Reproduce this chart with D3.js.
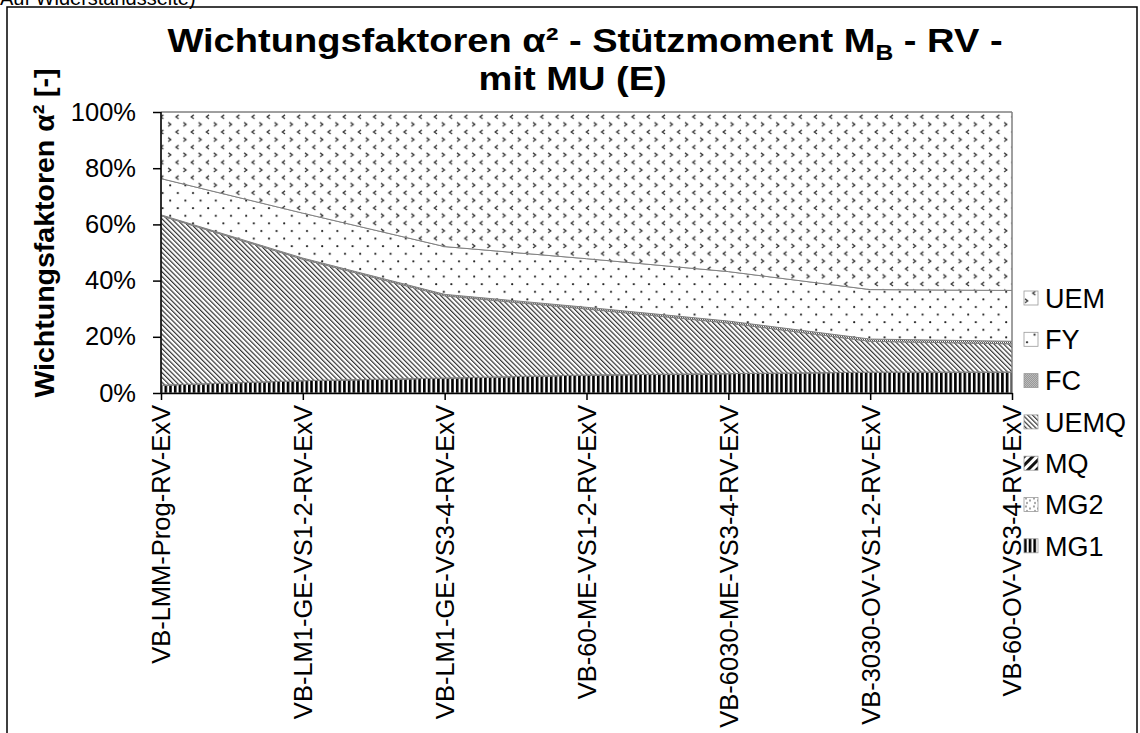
<!doctype html>
<html>
<head>
<meta charset="utf-8">
<title>Wichtungsfaktoren</title>
<script src="https://cdn.jsdelivr.net/npm/d3@7"></script>
<style>
    body { margin: 0; background: white; }
    text { font-family: "Liberation Sans", Arial, sans-serif; fill: black; }
    .title { font-weight: bold; font-size: 34px; text-anchor: middle; }
    .ytitle { font-weight: bold; font-size: 28.5px; text-anchor: middle; }
    .axis path, .axis line { stroke: black; stroke-width: 1.5px; }
    .axis text { font-size: 25.5px; }
    .legend text { font-size: 27px; }
    .layer { stroke: #808080; stroke-width: 1px; }
</style>
</head>
<body>
<script>
    const categories = [
        "VB-LMM-Prog-RV-ExV",
        "VB-LM1-GE-VS1-2-RV-ExV",
        "VB-LM1-GE-VS3-4-RV-ExV",
        "VB-60-ME-VS1-2-RV-ExV",
        "VB-6030-ME-VS3-4-RV-ExV",
        "VB-3030-OV-VS1-2-RV-ExV",
        "VB-60-OV-VS3-4-RV-ExV"
    ];
    // stacking order bottom -> top
    const keys = ["MG1", "MG2", "MQ", "UEMQ", "FC", "FY", "UEM"];
    // shares in percent
    const MG1 = [2.8, 4.4, 5.3, 6.4, 6.9, 7.4, 7.5];
    const MG2 = [0, 0, 0, 0, 0, 0, 0];
    const MQ = [0, 0, 0, 0, 0, 0, 0];
    const UEMQ = [60.3, 43.2, 29.3, 23.5, 18.0, 11.0, 10.0];
    const FC = [0.3, 0.4, 0.5, 0.6, 0.7, 0.8, 0.9];
    const FY = [12.9, 16.0, 17.0, 17.3, 17.6, 17.6, 18.1];
    const UEM = [23.7, 36.0, 47.9, 52.2, 56.8, 63.2, 63.5];
    const yTicks = [0, 0.2, 0.4, 0.6, 0.8, 1.0];

    const series = {MG1, MG2, MQ, UEMQ, FC, FY, UEM};
    const rows = categories.map((c, i) => {
        const r = {cat: c};
        keys.forEach(k => r[k] = series[k][i] / 100);
        return r;
    });

    const width = 1140, height = 733;
    const plotLeft = 161, plotRight = 1012, plotTop = 112, plotBottom = 393;

    const svg = d3.select("body").append("svg")
        .attr("width", width)
        .attr("height", height);

    // hatch patterns
    const defs = svg.append("defs");

    function pattern(id, w, h, transform) {
        const p = defs.append("pattern")
            .attr("id", id)
            .attr("patternUnits", "userSpaceOnUse")
            .attr("width", w)
            .attr("height", h);
        if (transform) p.attr("patternTransform", transform);
        p.append("rect").attr("width", w).attr("height", h).attr("fill", "white");
        return p;
    }

    const uem = pattern("p-UEM", 15.2, 15.2);
    uem.append("path").attr("d", "M1,0.8 l2.6,2 l-2.6,2").attr("fill", "none")
        .attr("stroke", "#333").attr("stroke-width", 1.3);
    uem.append("path").attr("d", "M11.4,8.4 l-2.6,2 l2.6,2").attr("fill", "none")
        .attr("stroke", "#333").attr("stroke-width", 1.3);

    const fy = pattern("p-FY", 15.2, 15.2);
    fy.append("circle").attr("cx", 3).attr("cy", 3).attr("r", 1.1).attr("fill", "#222");
    fy.append("circle").attr("cx", 10.6).attr("cy", 10.6).attr("r", 1.1).attr("fill", "#222");

    const fc = pattern("p-FC", 2, 2);
    fc.append("rect").attr("width", 1).attr("height", 1).attr("fill", "#555");
    fc.append("rect").attr("x", 1).attr("y", 1).attr("width", 1).attr("height", 1).attr("fill", "#555");

    const uemq = pattern("p-UEMQ", 3.4, 3.4, "rotate(-45)");
    uemq.append("rect").attr("width", 1.2).attr("height", 3.4).attr("fill", "#333");

    const mq = pattern("p-MQ", 6, 6, "rotate(45)");
    mq.append("rect").attr("width", 3).attr("height", 6).attr("fill", "#111");

    const mg2 = pattern("p-MG2", 8, 8);
    mg2.append("circle").attr("cx", 2).attr("cy", 2).attr("r", 0.8).attr("fill", "#333");
    mg2.append("circle").attr("cx", 6).attr("cy", 4).attr("r", 0.8).attr("fill", "#333");
    mg2.append("circle").attr("cx", 3).attr("cy", 6.5).attr("r", 0.8).attr("fill", "#333");

    const mg1 = pattern("p-MG1", 4.7, 4);
    mg1.append("rect").attr("width", 2.6).attr("height", 4).attr("fill", "#000");

    // outer frame and caption above it (cut by the page edge, as in the source)
    svg.append("text")
        .attr("x", 0).attr("y", 5)
        .style("font-size", "20px")
        .text("Auf Widerstandsseite)");
    svg.append("rect")
        .attr("x", 7).attr("y", 7)
        .attr("width", 1130).attr("height", 740)
        .attr("fill", "none")
        .attr("stroke", "black")
        .attr("stroke-width", 1.5);

    const x = d3.scalePoint().domain(categories).range([plotLeft, plotRight]);
    const y = d3.scaleLinear().domain([0, 1]).range([plotBottom, plotTop]);

    const stack = d3.stack().keys(keys);
    const layers = stack(rows);

    const area = d3.area()
        .x(d => x(d.data.cat))
        .y0(d => y(d[0]))
        .y1(d => y(d[1]));

    svg.append("g").selectAll("path")
        .data(layers)
        .join("path")
        .attr("class", "layer")
        .attr("fill", d => `url(#p-${d.key})`)
        .attr("d", area);

    // plot area border (top and right)
    svg.append("path")
        .attr("d", `M${plotLeft},${plotTop}H${plotRight}V${plotBottom}`)
        .attr("fill", "none")
        .attr("stroke", "#808080")
        .attr("stroke-width", 1);

    const yAxis = svg.append("g")
        .attr("class", "axis")
        .attr("transform", `translate(${plotLeft},0)`)
        .call(d3.axisLeft(y).tickValues(yTicks).tickFormat(d3.format(".0%")).tickSize(8).tickPadding(17));
    yAxis.select(".domain").attr("d", `M0,${plotTop}V${plotBottom}`);

    const xAxis = svg.append("g")
        .attr("class", "axis")
        .attr("transform", `translate(0,${plotBottom})`)
        .call(d3.axisBottom(x).tickSize(7).tickSizeOuter(0));
    xAxis.selectAll("text")
        .attr("transform", "rotate(-90)")
        .attr("text-anchor", "end")
        .attr("x", -12)
        .attr("y", 0)
        .attr("dy", "0.35em");

    // titles
    const title = svg.append("g")
        .attr("transform", "translate(585,0) scale(1.12,1)");
    const t1 = title.append("text").attr("class", "title").attr("y", 52);
    t1.append("tspan").text("Wichtungsfaktoren α² - Stützmoment M");
    t1.append("tspan").attr("dy", 8).style("font-size", "22px").text("B");
    t1.append("tspan").attr("dy", -8).text(" - RV -");
    title.append("text").attr("class", "title")
        .attr("x", -11).attr("y", 90)
        .text("mit MU (E)");

    svg.append("text")
        .attr("class", "ytitle")
        .attr("transform", "translate(54,233) rotate(-90)")
        .text("Wichtungsfaktoren α² [-]");

    // legend, top entry = last stacked layer
    const legendKeys = keys.slice().reverse();
    const legend = svg.append("g").attr("class", "legend")
        .selectAll("g")
        .data(legendKeys)
        .join("g")
        .attr("transform", (d, i) => `translate(1024,${298 + i * 41.3})`);
    legend.append("rect")
        .attr("x", 0).attr("y", -7)
        .attr("width", 14).attr("height", 14)
        .attr("fill", d => `url(#p-${d})`)
        .attr("stroke", "#999")
        .attr("stroke-width", 0.8);
    legend.append("text")
        .attr("x", 21)
        .attr("dy", "0.36em")
        .text(d => d);
</script>
</body>
</html>
